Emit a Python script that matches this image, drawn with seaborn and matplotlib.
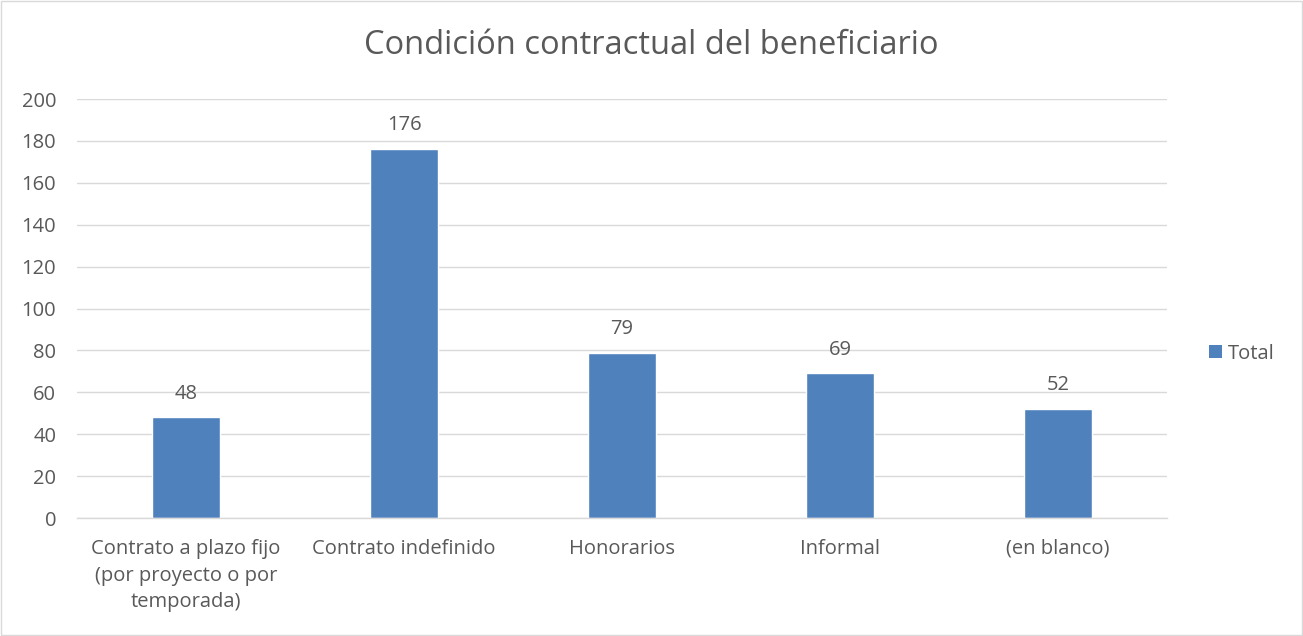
import matplotlib
matplotlib.use("Agg")
import matplotlib.pyplot as plt
import seaborn as sns
import pandas as pd
from matplotlib.patches import Patch

categories = ["Contrato a plazo fijo\n(por proyecto o por\ntemporada)", "Contrato indefinido",
              "Honorarios", "Informal", "(en blanco)"]
values = [48, 176, 79, 69, 52]
yticks = [0, 20, 40, 60, 80, 100, 120, 140, 160, 180, 200]
series_name = "Total"
title = "Condición contractual del beneficiario"

sns.set_theme(style="white")
plt.rcParams['font.family'] = ['Open Sans', 'DejaVu Sans']

bar_color = "#4F81BD"
text_color = "#595959"
grid_color = "#D9D9D9"

df = pd.DataFrame({"cat": categories, "val": values})

fig = plt.figure(figsize=(13.03, 6.36), dpi=100)
ax = fig.add_axes([0.0591, 0.1855, 0.8365, 0.6588])
sns.barplot(data=df, x="cat", y="val", color=bar_color, width=0.31, ax=ax, saturation=1)

ax.set_ylim(0, 200)
ax.set_xlim(-0.5, len(categories) - 0.5)
ax.set_yticks(yticks)
ax.set_yticklabels([str(t) for t in yticks], fontsize=14.5, color=text_color)
ax.tick_params(axis="x", labelsize=14.5, colors=text_color, length=0, pad=15)
ax.tick_params(axis="y", length=0, pad=15)
for lbl in ax.get_xticklabels():
    lbl.set_color(text_color)
    lbl.set_linespacing(1.45)
ax.yaxis.grid(True, color=grid_color, linewidth=1)
ax.set_axisbelow(True)
for s in ["left", "right", "top"]:
    ax.spines[s].set_visible(False)
ax.spines["bottom"].set_color(grid_color)
ax.spines["bottom"].set_linewidth(1)
ax.set_xlabel("")
ax.set_ylabel("")

for container in ax.containers:
    ax.bar_label(container, labels=[str(v) for v in values], padding=10, fontsize=14.5, color=text_color)

fig.suptitle(title, fontsize=23.5, color=text_color, y=0.955)

handles = [Patch(facecolor=bar_color, edgecolor="none", label=series_name)]
fig.legend(handles=handles, loc="center left", bbox_to_anchor=(0.914, 0.444), frameon=False,
           fontsize=14.5, labelcolor=text_color, handlelength=0.65, handleheight=0.65, handletextpad=0.3)

border = plt.Rectangle((0.001, 0.001), 0.998, 0.997, transform=fig.transFigure, fill=False,
                       edgecolor="#D9D9D9", linewidth=1)
fig.patches.append(border)

fig.savefig("out.png", dpi=100)
